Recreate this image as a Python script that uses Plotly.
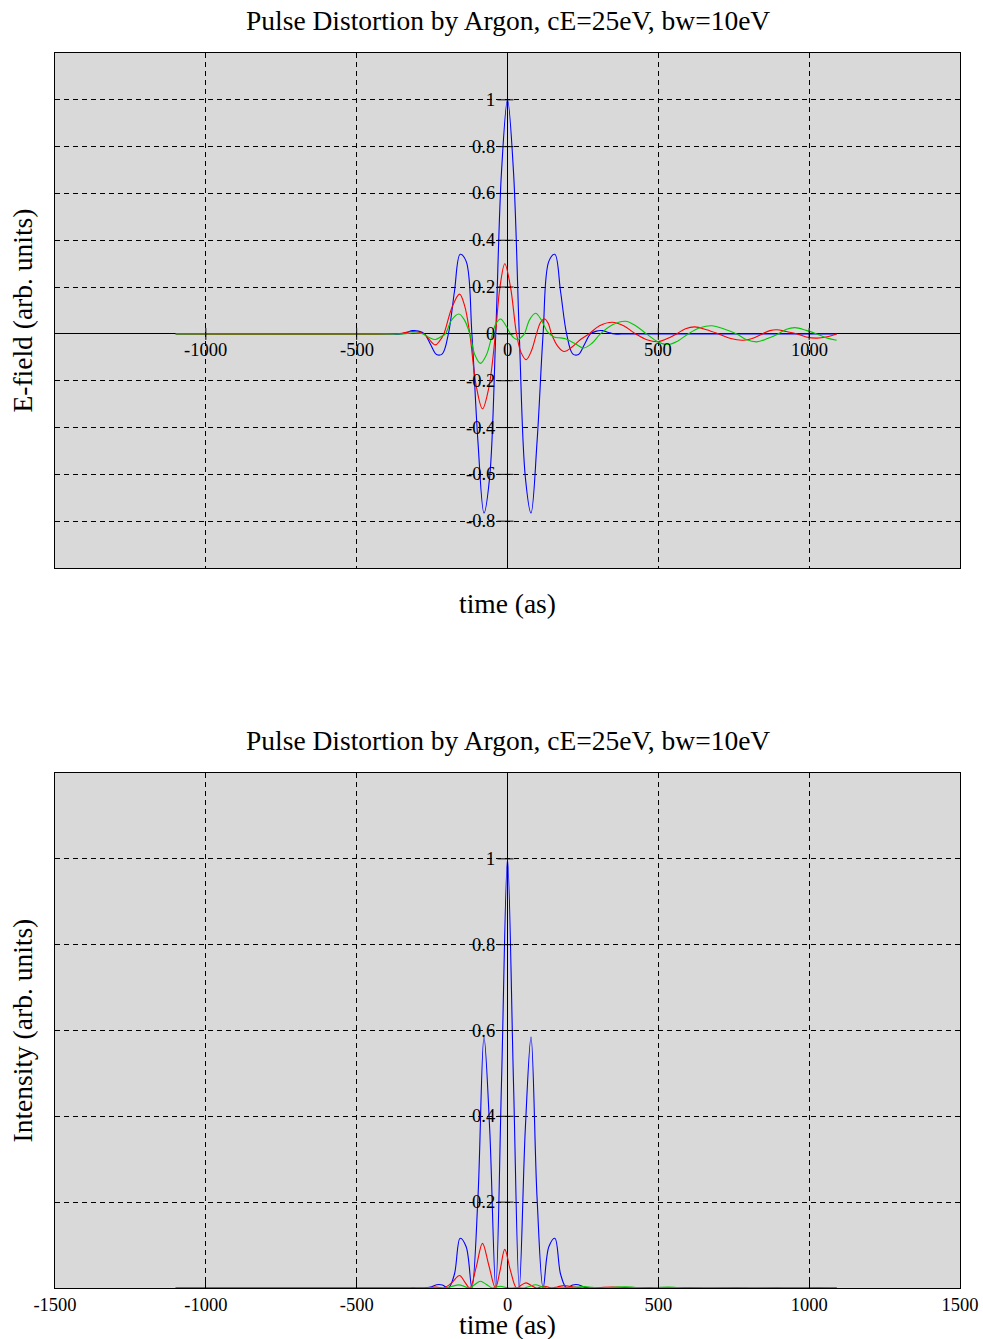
import plotly.graph_objects as go

# ---------------- data ----------------
t_blue = [-1100, -400, -355, -335, -315, -295, -275, -255, -235, -216, -196, -176, -157, -137,
          -118, -98, -78, -59, -39, -20, 0, 20, 39, 59, 78, 98, 118, 137, 157, 176, 196, 216,
          235, 255, 275, 295, 315, 335, 355, 400, 1091]
e_blue = [0, 0, 0, 0.006, 0.014, 0.012, 0, -0.045, -0.088, -0.085, 0, 0.18, 0.34, 0.31,
          0, -0.46, -0.765, -0.61, 0, 0.69, 1.0, 0.69, 0, -0.61, -0.765, -0.46, 0, 0.31, 0.34, 0.18, 0, -0.085,
          -0.088, -0.045, 0, 0.012, 0.014, 0.006, 0, 0, 0]
i_blue = [0, 0, 0, 0.00004, 0.0002, 0.00015, 0, 0.002, 0.0077, 0.0072, 0, 0.032, 0.116, 0.096,
          0, 0.21, 0.585, 0.37, 0, 0.476, 1.0, 0.476, 0, 0.37, 0.585, 0.21, 0, 0.096, 0.116, 0.032, 0, 0.0072,
          0.0077, 0.002, 0, 0.00015, 0.0002, 0.00004, 0, 0, 0]

t_red = [-1100, -400, -350, -316, -277, -262, -239, -225, -211, -185, -159, -142, -125, -104, -83, -62,
         -40, -25, -9, 10, 30, 45, 62, 80, 96, 110, 123, 135, 146, 165, 187, 215, 242, 270, 305, 347,
         385, 425, 462, 500, 530, 560, 590, 621, 660, 700, 740, 782, 820, 845, 870, 892, 925, 960,
         990, 1025, 1060, 1091]
e_red = [0, 0, 0.003, 0.01, 0, -0.02, -0.047, -0.03, 0, 0.11, 0.17, 0.12, 0, -0.22, -0.32, -0.23,
         0, 0.2, 0.30, 0.2, 0, -0.08, -0.11, -0.07, 0, 0.05, 0.064, 0.045, 0, -0.05, -0.075, -0.055, -0.024, 0, 0.035, 0.05,
         0.035, 0, -0.025, -0.033, -0.02, 0, 0.022, 0.03, 0.018, 0, -0.02, -0.027, -0.015, 0, 0.014, 0.018, 0.01, 0,
         -0.013, -0.018, -0.012, 0]
i_red = [0, 0, 0, 0.0001, 0, 0.0004, 0.0022, 0.0009, 0, 0.012, 0.029, 0.0144, 0, 0.048, 0.104, 0.053,
         0, 0.04, 0.09, 0.04, 0, 0.0064, 0.012, 0.005, 0, 0.0025, 0.0041, 0.002, 0, 0.0025, 0.0056, 0.003, 0.0006, 0, 0.0012, 0.0025,
         0.0012, 0, 0.0006, 0.0011, 0.0004, 0, 0.0005, 0.0009, 0.0003, 0, 0.0004, 0.0007, 0.0002, 0, 0.0002, 0.0003, 0.0001, 0,
         0.0002, 0.0003, 0.0001, 0]

t_green = [-1100, -400, -345, -316, -280, -260, -239, -220, -206, -185, -161, -143, -125, -108, -90, -70,
           -50, -38, -23, -5, 10, 22, 35, 45, 56, 73, 93, 112, 132, 154, 175, 192, 222, 253, 280, 308,
           350, 391, 425, 461, 497, 533, 565, 599, 638, 677, 720, 760, 793, 826, 862, 897, 925, 953,
           990, 1025, 1060, 1091]
e_green = [0, 0, 0, 0.004, 0, -0.015, -0.024, -0.012, 0, 0.06, 0.085, 0.06, 0, -0.09, -0.126, -0.09,
           0, 0.045, 0.064, 0.035, 0, -0.018, -0.024, -0.015, 0, 0.06, 0.088, 0.06, 0.01, -0.013, -0.017, -0.021, -0.04, -0.06, -0.04, 0,
           0.04, 0.054, 0.035, 0, -0.033, -0.045, -0.03, 0, 0.026, 0.035, 0.02, 0, -0.025, -0.034, -0.02, 0, 0.02, 0.027,
           0.015, 0, -0.018, -0.027]
i_green = [0, 0, 0, 0.00002, 0, 0.0002, 0.0006, 0.00015, 0, 0.0036, 0.0072, 0.0036, 0, 0.0081, 0.0159, 0.0081,
           0, 0.002, 0.0041, 0.0012, 0, 0.0003, 0.0006, 0.0002, 0, 0.0036, 0.0077, 0.0036, 0.0001, 0.00017, 0.0003, 0.00044, 0.0016, 0.0036, 0.0016, 0,
           0.0016, 0.0029, 0.0012, 0, 0.0011, 0.002, 0.0009, 0, 0.0007, 0.0012, 0.0004, 0, 0.0006, 0.0012, 0.0004, 0, 0.0004, 0.0007,
           0.0002, 0, 0.0003, 0.0007]

title_text = "Pulse Distortion by Argon, cE=25eV, bw=10eV"
x_label = "time (as)"
y_label_top = "E-field (arb. units)"
y_label_bot = "Intensity (arb. units)"

x_range = [-1500, 1500]
y_range_top = [-1.0, 1.2]
y_range_bot = [0.0, 1.2]
x_grid = [-1000, -500, 0, 500, 1000]
x_ticks_top = [-1000, -500, 0, 500, 1000]
x_ticks_bot = [-1500, -1000, -500, 0, 500, 1000, 1500]
y_ticks_top = [-0.8, -0.6, -0.4, -0.2, 0, 0.2, 0.4, 0.6, 0.8, 1.0]
y_ticks_bot = [0.2, 0.4, 0.6, 0.8, 1.0]

# ---------------- style ----------------
FONT = "Liberation Serif"
BLUE, RED, GREEN = "#0000ff", "#ff0000", "#00c800"
BG = "#d9d9d9"
GRIDDASH = "5px,4px"

W, H = 983, 1339
ML, MR, MT, MB = 55, 23, 53, 51
plot_h = H - MT - MB
top_dom = [(1288 - 568) / plot_h, 1.0]
bot_dom = [0.0, (1288 - 773) / plot_h]


def lab(v):
    return "%g" % v


fig = go.Figure()
for t, v, c in [(t_blue, e_blue, BLUE), (t_red, e_red, RED), (t_green, e_green, GREEN)]:
    fig.add_trace(go.Scatter(x=t, y=v, mode="lines", line=dict(color=c, width=1.1, shape="spline", smoothing=1.0),
                             xaxis="x", yaxis="y", showlegend=False, hoverinfo="skip"))
for t, v, c in [(t_blue, i_blue, BLUE), (t_red, i_red, RED), (t_green, i_green, GREEN)]:
    fig.add_trace(go.Scatter(x=t, y=v, mode="lines", line=dict(color=c, width=1.1, shape="spline", smoothing=1.0),
                             xaxis="x2", yaxis="y2", showlegend=False, hoverinfo="skip"))

base = dict(showgrid=True, gridcolor="black", gridwidth=1, griddash=GRIDDASH,
            zeroline=True, zerolinecolor="black", zerolinewidth=1,
            showline=True, mirror=True, linecolor="black", linewidth=1,
            ticks="", showticklabels=False, fixedrange=True, automargin=False)

TICK_SIZE = 18.5
tickfont = dict(family=FONT, size=TICK_SIZE, color="black")

fig.update_layout(
    width=W, height=H,
    margin=dict(l=ML, r=MR, t=MT, b=MB, autoexpand=False),
    paper_bgcolor="white", plot_bgcolor=BG,
    showlegend=False,
    font=dict(family=FONT, color="black"),
    xaxis=dict(base, domain=[0, 1], anchor="y", range=x_range, tickvals=x_grid),
    yaxis=dict(base, domain=top_dom, anchor="x", range=y_range_top, tickvals=y_ticks_top),
    xaxis2=dict(base, domain=[0, 1], anchor="y2", range=x_range, tickvals=x_ticks_bot,
                showticklabels=True, ticks="inside", ticklen=7, tickcolor="black",
                tickfont=tickfont, ticktext=[lab(v) for v in x_ticks_bot]),
    yaxis2=dict(base, domain=bot_dom, anchor="x2", range=y_range_bot, tickvals=y_ticks_bot),
)

annots = []
shapes = []
# tick labels and tick marks along the zero lines
for v in x_ticks_top:
    annots.append(dict(text=lab(v), x=v, y=0, xref="x", yref="y", showarrow=False, font=tickfont,
                       xanchor="center", yanchor="top", yshift=-4))
    shapes.append(dict(type="line", xref="x", yref="y", x0=v, x1=v, ysizemode="pixel", yanchor=0,
                       y0=-6, y1=6, line=dict(color="black", width=1)))
for v in y_ticks_top:
    annots.append(dict(text=lab(v), x=0, y=v, xref="x", yref="y", showarrow=False, font=tickfont,
                       xanchor="right", yanchor="middle", xshift=-11))
    shapes.append(dict(type="line", xref="x", yref="y", y0=v, y1=v, xsizemode="pixel", xanchor=0,
                       x0=-10, x1=6, line=dict(color="black", width=1)))
for v in y_ticks_bot:
    annots.append(dict(text=lab(v), x=0, y=v, xref="x2", yref="y2", showarrow=False, font=tickfont,
                       xanchor="right", yanchor="middle", xshift=-11))
    shapes.append(dict(type="line", xref="x2", yref="y2", y0=v, y1=v, xsizemode="pixel", xanchor=0,
                       x0=-10, x1=6, line=dict(color="black", width=1)))


def py(pix):
    return (H - MB - pix) / plot_h


def px(pix):
    return (pix - ML) / (W - ML - MR)


big = dict(family=FONT, size=27.5, color="black")
annots += [
    dict(text=title_text, x=0.5, y=py(20), xref="paper", yref="paper", showarrow=False, font=big,
         xanchor="center", yanchor="middle"),
    dict(text=title_text, x=0.5, y=py(740), xref="paper", yref="paper", showarrow=False, font=big,
         xanchor="center", yanchor="middle"),
    dict(text=x_label, x=0.5, y=py(603), xref="paper", yref="paper", showarrow=False, font=big,
         xanchor="center", yanchor="middle"),
    dict(text=x_label, x=0.5, y=py(1325), xref="paper", yref="paper", showarrow=False, font=big,
         xanchor="center", yanchor="middle"),
    dict(text=y_label_top, x=px(22), y=py(310.5), xref="paper", yref="paper", showarrow=False, font=big,
         textangle=-90, xanchor="center", yanchor="middle"),
    dict(text=y_label_bot, x=px(22), y=py(1030.5), xref="paper", yref="paper", showarrow=False, font=big,
         textangle=-90, xanchor="center", yanchor="middle"),
]
fig.update_layout(annotations=annots, shapes=shapes)

fig.write_html("out.html")
